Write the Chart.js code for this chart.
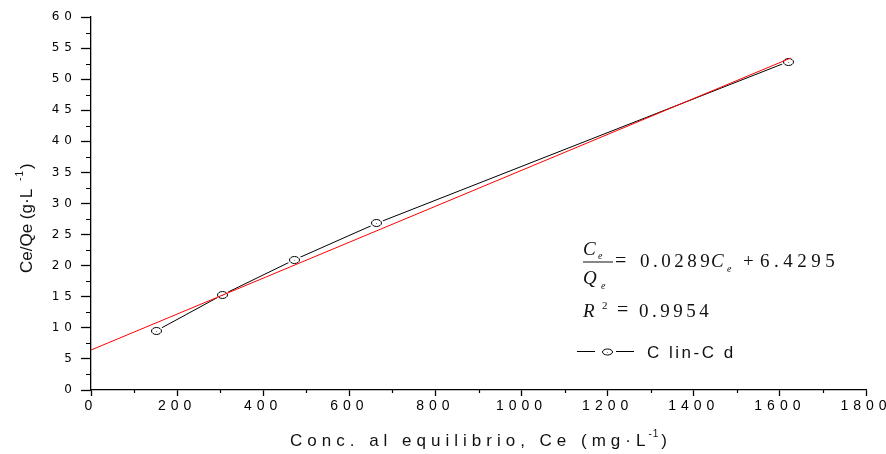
<!DOCTYPE html>
<html>
<head>
<meta charset="utf-8">
<script src="https://cdn.jsdelivr.net/npm/chart.js@4.4.1/dist/chart.umd.min.js"></script>
<style>
    html, body { margin: 0; padding: 0; background: #fff; }
</style>
</head>
<body>
<canvas id="isoChart" width="886" height="454"></canvas>
<script>
// Measured points (Ce in mg/L, Ce/Qe in g/L)
const ceValues = [151, 305, 471, 663, 1619];
const ceQeValues = [9.5, 15.3, 20.9, 26.8, 52.8];

// Linear fit drawn in red, ends
const fitX = [0, 1625];
const fitY = [6.43, 53.39];

// Axis ticks
const xTicks = [0, 200, 400, 600, 800, 1000, 1200, 1400, 1600, 1800];
const xMinor = [100, 300, 500, 700, 900, 1100, 1300, 1500, 1700];
const yTicks = [0, 5, 10, 15, 20, 25, 30, 35, 40, 45, 50, 55, 60];
const yMinor = [2.5, 7.5, 12.5, 17.5, 22.5, 27.5, 32.5, 37.5, 42.5, 47.5, 52.5, 57.5];

const seriesName = 'C lin-C d';
const ink = '#000';

// open ellipse with a white halo so lines stop short of it
function drawMarker(ctx, cx, cy, rx, ry, halo) {
    ctx.save();
    if (halo) {
        ctx.fillStyle = '#fff';
        ctx.beginPath();
        ctx.ellipse(cx, cy, rx + halo, ry + halo, 0, 0, Math.PI * 2);
        ctx.fill();
    }
    ctx.strokeStyle = '#000';
    ctx.lineWidth = 1;
    ctx.beginPath();
    ctx.ellipse(cx, cy, rx, ry, 0, 0, Math.PI * 2);
    ctx.stroke();
    ctx.fillStyle = '#888';
    ctx.fillRect(Math.floor(cx), Math.floor(cy), 1, 1);
    ctx.restore();
}

function txt(ctx, s, x, y, font, spacing) {
    ctx.font = font;
    ctx.letterSpacing = (spacing || 0) + 'px';
    ctx.fillText(s, x, y);
    return ctx.measureText(s).width;
}

const decorations = {
    id: 'decorations',
    beforeLayout(chart) { chart.ctx.letterSpacing = '5px'; },
    beforeDraw(chart) { chart.ctx.letterSpacing = '5px'; },
    afterDatasetDraw(chart, args) {
        if (args.index !== 1) return;
        args.meta.data.forEach(pt => {
            drawMarker(chart.ctx, Math.round(pt.x) + 0.5, Math.round(pt.y), 5, 3.5, 2);
        });
    },
    afterDraw(chart) {
        const ctx = chart.ctx;
        const xs = chart.scales.x, ys = chart.scales.y;
        const area = chart.chartArea;
        ctx.save();

        // minor ticks
        ctx.strokeStyle = '#000';
        ctx.lineWidth = 1.2;
        ctx.beginPath();
        yMinor.forEach(v => {
            const p = Math.round(ys.getPixelForValue(v)) + 0.5;
            ctx.moveTo(area.left - 5, p);
            ctx.lineTo(area.left, p);
        });
        xMinor.forEach(v => {
            const p = Math.round(xs.getPixelForValue(v)) + 0.5;
            ctx.moveTo(p, area.bottom);
            ctx.lineTo(p, area.bottom + 3);
        });
        ctx.stroke();

        ctx.fillStyle = '#111';
        ctx.textBaseline = 'alphabetic';
        ctx.textAlign = 'left';

        // x title
        let w = txt(ctx, 'Conc. al equilibrio, Ce (mg·L', 290, 445.5, '17px Arial', 5);
        let w2 = txt(ctx, '-1', 290 + w - 2, 437, '10px Arial', 1);
        txt(ctx, ')', 290 + w + w2, 445.5, '17px Arial', 0);

        // y title
        ctx.save();
        ctx.translate(32, 273);
        ctx.rotate(-Math.PI / 2);
        w = txt(ctx, 'Ce/Qe (g·L', 0, 0, '17px Arial', 0);
        w2 = txt(ctx, '-1', w + 8, -9, '10px Arial', 1);
        txt(ctx, ')', w + 8 + w2 + 1, 0, '17px Arial', 0);
        ctx.restore();

        // fitted equation
        const serif = '"Liberation Serif", "Times New Roman", serif';
        txt(ctx, 'C', 583, 255, 'italic 19px ' + serif);
        txt(ctx, 'e', 598, 259, 'italic 10px ' + serif);
        ctx.fillRect(583, 261.5, 30, 1);
        txt(ctx, 'Q', 583, 284, 'italic 19px ' + serif);
        txt(ctx, 'e', 601, 289, 'italic 10px ' + serif);
        txt(ctx, '=', 615, 267, '20px ' + serif);
        txt(ctx, '0.0289', 640, 267, '19px ' + serif, 3.5);
        txt(ctx, 'C', 711, 267, 'italic 19px ' + serif);
        txt(ctx, 'e', 727, 272, 'italic 10px ' + serif);
        txt(ctx, '+', 743, 267, '19px ' + serif);
        txt(ctx, '6.4295', 760, 267, '19px ' + serif, 4.5);

        txt(ctx, 'R', 583, 317, 'italic 19px ' + serif);
        txt(ctx, '2', 602, 309, '11px ' + serif);
        txt(ctx, '=', 617, 316, '20px ' + serif);
        txt(ctx, '0.9954', 639, 317, '19px ' + serif, 3.5);

        // legend entry
        ctx.strokeStyle = '#000';
        ctx.lineWidth = 1;
        ctx.beginPath();
        ctx.moveTo(577, 351.5); ctx.lineTo(595, 351.5);
        ctx.moveTo(616, 351.5); ctx.lineTo(634, 351.5);
        ctx.stroke();
        drawMarker(ctx, 607.5, 352, 5, 3, 0);
        txt(ctx, seriesName, 647, 358, '17px Arial', 2.5);

        ctx.restore();
    }
};

new Chart(document.getElementById('isoChart'), {
    type: 'line',
    data: {
        datasets: [
            {
                label: 'Ajuste',
                data: fitX.map((x, i) => ({ x: x, y: fitY[i] })),
                borderColor: '#ff0000',
                borderWidth: 1,
                pointRadius: 0,
                tension: 0
            },
            {
                label: seriesName,
                data: ceValues.map((x, i) => ({ x: x, y: ceQeValues[i] })),
                borderColor: '#000',
                borderWidth: 1,
                pointRadius: 0,
                tension: 0
            }
        ]
    },
    options: {
        responsive: false,
        animation: false,
        layout: { padding: { top: 17, right: 20, left: 0, bottom: 0 } },
        plugins: {
            legend: { display: false },
            tooltip: { enabled: false }
        },
        scales: {
            x: {
                type: 'linear',
                min: 0,
                max: 1800,
                afterBuildTicks: s => { s.ticks = xTicks.map(v => ({ value: v })); },
                afterFit: s => { s.height = 64; s.paddingLeft = 0; s.paddingRight = 0; },
                grid: { drawOnChartArea: false, tickLength: 6, tickColor: '#000', tickWidth: 1.3 },
                border: { color: '#000', width: 1.3 },
                ticks: {
                    color: ink, font: { family: 'Arial', size: 14 }, padding: 2,
                    maxRotation: 0, autoSkip: false, callback: v => String(v)
                }
            },
            y: {
                type: 'linear',
                min: 0,
                max: 60,
                afterBuildTicks: s => { s.ticks = yTicks.map(v => ({ value: v })); },
                afterFit: s => { s.width = 91; },
                grid: { drawOnChartArea: false, tickLength: 10, tickColor: '#000', tickWidth: 1.3 },
                border: { color: '#000', width: 1.3 },
                ticks: {
                    color: ink, font: { family: '"DejaVu Sans"', size: 12 }, padding: 4,
                    autoSkip: false, callback: v => String(v)
                }
            }
        }
    },
    plugins: [decorations]
});
</script>
</body>
</html>
